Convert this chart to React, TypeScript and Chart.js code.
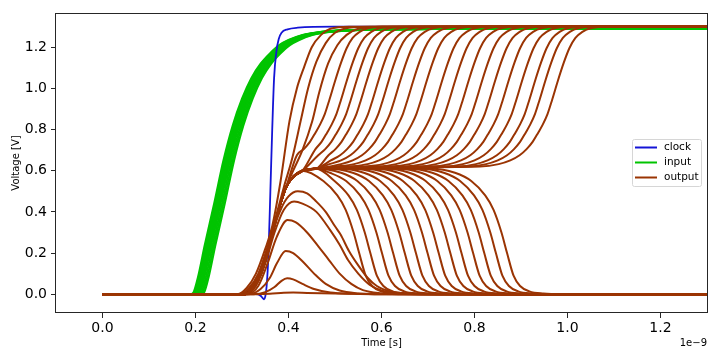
import { useEffect, useRef } from 'react';
import { Chart, registerables } from 'chart.js';

Chart.register(...registerables);

// Axis ranges (time axis in units of 1e-9 s)
const X_MIN = -0.1;
const X_MAX = 1.3;
const Y_MIN = -0.0913;
const Y_MAX = 1.3663;
const xTicks = [0, 0.2, 0.4, 0.6, 0.8, 1.0, 1.2];
const yTicks = [0, 0.2, 0.4, 0.6, 0.8, 1.0, 1.2];

// clock
const clockT = [0, 0.33, 0.34, 0.345, 0.3475, 0.35, 0.353, 0.357, 0.361, 0.365, 0.369, 0.374, 0.379, 0.385, 0.398, 0.42, 0.5, 1.3];
const clockV = [0, 0, -0.008, -0.02, -0.025, -0.012, 0.04, 0.2, 0.5, 0.8, 1.05, 1.18, 1.24, 1.27, 1.287, 1.295, 1.3, 1.3];

// input ramp (earliest of the sweep) and the sweep offsets
const inputT = [0, 0.19, 0.196, 0.205, 0.22, 0.24, 0.26, 0.28, 0.3, 0.32, 0.34, 0.36, 0.38, 0.4, 0.43, 0.47, 0.52, 0.6, 0.8, 1.3];
const inputV = [0, 0, 0.01, 0.08, 0.24, 0.44, 0.65, 0.82, 0.95, 1.05, 1.12, 1.17, 1.21, 1.235, 1.26, 1.275, 1.283, 1.287, 1.29, 1.29];
const inputOffsets = [0, 0.002, 0.004, 0.006, 0.008, 0.01, 0.012, 0.014, 0.017, 0.02, 0.023];

// output: common rise into the metastable plateau
const riseT = [0, 0.305, 0.32, 0.335, 0.35, 0.365, 0.38, 0.395, 0.41, 0.43, 0.46];
const riseV = [0, 0, 0.02, 0.07, 0.16, 0.29, 0.42, 0.52, 0.57, 0.6, 0.61];

// output resolving high: edge shape relative to the 0.84 V crossing
const upEdgeDt = [-0.14, -0.1, -0.075, -0.055, -0.04, -0.027, -0.015, -0.005, 0.005, 0.015, 0.027, 0.04, 0.052, 0.065, 0.08, 0.1, 0.13];
const upEdgeV = [0.62, 0.632, 0.65, 0.675, 0.705, 0.74, 0.785, 0.825, 0.875, 0.945, 1.035, 1.125, 1.195, 1.245, 1.275, 1.293, 1.3];
const upCross = [0.473, 0.498, 0.519, 0.541, 0.566, 0.588, 0.613, 0.641, 0.67, 0.703, 0.731, 0.76, 0.789, 0.817, 0.846, 0.875, 0.903, 0.925, 0.952];

// output resolving low: edge shape relative to the 0.3 V crossing
const downEdgeDt = [-0.15, -0.1, -0.065, -0.035, -0.017, 0, 0.012, 0.026, 0.04, 0.06, 0.09, 0.13];
const downEdgeV = [0.61, 0.59, 0.55, 0.48, 0.41, 0.3, 0.2, 0.09, 0.04, 0.014, 0.003, 0];
const downCross = [0.54, 0.564, 0.589, 0.613, 0.638, 0.662, 0.687, 0.711, 0.736, 0.76, 0.785, 0.809, 0.834, 0.858];

// early outputs read individually
const earlyUp1: [number, number][] = [[0, 0], [0.29, 0], [0.31, 0.03], [0.33, 0.1], [0.35, 0.22], [0.365, 0.33], [0.383, 0.55], [0.402, 0.84], [0.418, 1.0], [0.433, 1.1], [0.45, 1.2], [0.47, 1.26], [0.49, 1.29], [0.53, 1.3], [1.3, 1.3]];
const earlyUp2: [number, number][] = [[0, 0], [0.295, 0], [0.315, 0.03], [0.335, 0.1], [0.355, 0.23], [0.372, 0.37], [0.39, 0.52], [0.408, 0.66], [0.426, 0.84], [0.442, 1.0], [0.46, 1.13], [0.48, 1.22], [0.5, 1.27], [0.53, 1.295], [0.58, 1.3], [1.3, 1.3]];
const earlyUp3: [number, number][] = [[0, 0], [0.3, 0], [0.318, 0.03], [0.338, 0.1], [0.355, 0.21], [0.372, 0.35], [0.39, 0.49], [0.41, 0.6], [0.43, 0.7], [0.451, 0.84], [0.466, 0.98], [0.485, 1.12], [0.505, 1.21], [0.525, 1.26], [0.55, 1.29], [0.6, 1.3], [1.3, 1.3]];
const earlyDown1: [number, number][] = [[0, 0], [0.33, 0], [0.36, 0.002], [0.39, 0.007], [0.41, 0.008], [0.44, 0.006], [0.5, 0.003], [0.6, 0.001], [0.7, 0], [1.3, 0]];
const earlyDown2: [number, number][] = [[0, 0], [0.325, 0], [0.35, 0.01], [0.37, 0.035], [0.385, 0.065], [0.397, 0.077], [0.41, 0.072], [0.43, 0.05], [0.455, 0.025], [0.49, 0.008], [0.54, 0.002], [0.6, 0], [1.3, 0]];
const earlyDown3: [number, number][] = [[0, 0], [0.315, 0], [0.34, 0.025], [0.36, 0.08], [0.375, 0.15], [0.394, 0.21], [0.41, 0.2], [0.43, 0.16], [0.455, 0.1], [0.48, 0.05], [0.51, 0.018], [0.55, 0.004], [0.6, 0], [1.3, 0]];
const earlyDown4: [number, number][] = [[0, 0], [0.31, 0], [0.335, 0.04], [0.355, 0.15], [0.375, 0.28], [0.398, 0.36], [0.415, 0.35], [0.44, 0.3], [0.465, 0.23], [0.487, 0.166], [0.51, 0.1], [0.535, 0.05], [0.56, 0.02], [0.6, 0.005], [0.65, 0], [1.3, 0]];
const earlyDown5: [number, number][] = [[0, 0], [0.305, 0], [0.33, 0.04], [0.35, 0.15], [0.37, 0.3], [0.39, 0.41], [0.412, 0.45], [0.43, 0.44], [0.46, 0.4], [0.49, 0.31], [0.51, 0.24], [0.528, 0.166], [0.55, 0.1], [0.575, 0.045], [0.6, 0.018], [0.64, 0.004], [0.7, 0], [1.3, 0]];
const earlyDown6: [number, number][] = [[0, 0], [0.3, 0], [0.325, 0.04], [0.345, 0.15], [0.365, 0.3], [0.385, 0.42], [0.4, 0.475], [0.42, 0.5], [0.44, 0.49], [0.46, 0.45], [0.48, 0.4], [0.5, 0.33], [0.512, 0.29], [0.53, 0.21], [0.55, 0.14], [0.57, 0.08], [0.59, 0.04], [0.62, 0.013], [0.66, 0.003], [0.72, 0], [1.3, 0]];

const CLOCK_COLOR = '#1414d6';
const INPUT_COLOR = '#00c400';
const OUTPUT_COLOR = '#9a3403';

type P = { x: number; y: number };

function fromArrays(ts: number[], vs: number[]): P[] {
  return ts.map((t, i) => ({ x: t, y: vs[i] }));
}
function fromPairs(pairs: [number, number][]): P[] {
  return pairs.map(([x, y]) => ({ x, y }));
}
// join the common rise with a shifted edge shape, leaving a small gap between the two
function joinEdge(cross: number, riseLimit: number, dts: number[], vs: number[], endV: number): P[] {
  const out: P[] = [];
  riseT.forEach((t, i) => { if (t < cross - riseLimit) out.push({ x: t, y: riseV[i] }); });
  const last = out[out.length - 1].x;
  dts.forEach((dt, i) => { if (cross + dt > last + 0.02) out.push({ x: cross + dt, y: vs[i] }); });
  out.push({ x: X_MAX, y: endV });
  return out;
}
const buildUp = (T: number) => joinEdge(T, 0.065, upEdgeDt, upEdgeV, 1.3);
const buildDown = (D: number) => joinEdge(D, 0.09, downEdgeDt, downEdgeV, 0);

const framePlugin = {
  id: 'framePlugin',
  afterDraw(chart: any) {
    const { ctx, chartArea: a } = chart;
    ctx.save();
    ctx.strokeStyle = '#262626';
    ctx.lineWidth = 1;
    ctx.strokeRect(Math.round(a.left) - 0.5, Math.round(a.top) + 0.5, Math.round(a.right - a.left) + 1, Math.round(a.bottom - a.top) - 1);

    ctx.fillStyle = '#000';
    ctx.font = '10px "DejaVu Sans"';
    ctx.textBaseline = 'middle';
    ctx.textAlign = 'center';
    ctx.fillText('Time [s]', (a.left + a.right) / 2, 343);
    ctx.textAlign = 'right';
    ctx.fillText('1e\u22129', a.right, 343);
    ctx.save();
    ctx.translate(16, (a.top + a.bottom) / 2);
    ctx.rotate(-Math.PI / 2);
    ctx.textAlign = 'center';
    ctx.fillText('Voltage [V]', 0, 0);
    ctx.restore();

    // legend
    const lx = 632.5, ly = 139.5, lw = 69, lh = 47, r = 2;
    ctx.beginPath();
    ctx.moveTo(lx + r, ly);
    ctx.lineTo(lx + lw - r, ly);
    ctx.arcTo(lx + lw, ly, lx + lw, ly + r, r);
    ctx.lineTo(lx + lw, ly + lh - r);
    ctx.arcTo(lx + lw, ly + lh, lx + lw - r, ly + lh, r);
    ctx.lineTo(lx + r, ly + lh);
    ctx.arcTo(lx, ly + lh, lx, ly + lh - r, r);
    ctx.lineTo(lx, ly + r);
    ctx.arcTo(lx, ly, lx + r, ly, r);
    ctx.closePath();
    ctx.fillStyle = 'rgba(255,255,255,0.8)';
    ctx.fill();
    ctx.strokeStyle = '#d6d6d6';
    ctx.stroke();
    const items: [string, string][] = [['clock', CLOCK_COLOR], ['input', INPUT_COLOR], ['output', OUTPUT_COLOR]];
    ctx.font = '10.5px "DejaVu Sans"';
    ctx.textAlign = 'left';
    items.forEach(([label, color], i) => {
      const y = 147.5 + i * 15;
      ctx.strokeStyle = color;
      ctx.lineWidth = 2;
      ctx.beginPath();
      ctx.moveTo(635, y);
      ctx.lineTo(657, y);
      ctx.stroke();
      ctx.fillStyle = '#000';
      ctx.fillText(label, 664, y);
    });
    ctx.restore();
  },
};

export default function App() {
  const ref = useRef<HTMLCanvasElement>(null);
  useEffect(() => {
    document.body.style.margin = '0';
    const datasets: any[] = [];
    const base = { pointRadius: 0, borderWidth: 2, fill: false, cubicInterpolationMode: 'monotone' };
    // Chart.js paints the first dataset last (on top): outputs first, inputs last
    const outputs: P[][] = [
      ...upCross.map(buildUp),
      fromPairs(earlyUp1), fromPairs(earlyUp2), fromPairs(earlyUp3),
      ...downCross.map(buildDown),
      fromPairs(earlyDown1), fromPairs(earlyDown2), fromPairs(earlyDown3), fromPairs(earlyDown4), fromPairs(earlyDown5), fromPairs(earlyDown6),
    ];
    outputs.forEach((d) => datasets.push({ ...base, label: 'output', borderColor: OUTPUT_COLOR, data: d }));
    datasets.push({ ...base, label: 'clock', borderColor: CLOCK_COLOR, borderWidth: 1.8, data: fromArrays(clockT, clockV) });
    inputOffsets.forEach((off) => {
      datasets.push({ ...base, label: 'input', borderColor: INPUT_COLOR, data: fromArrays(inputT.map((t, i) => (i === 0 ? t : t + off)), inputV) });
    });

    const tickFont = { family: '"DejaVu Sans"', size: 14 };
    const chart = new Chart(ref.current!, {
      type: 'line',
      data: { datasets },
      options: {
        responsive: false,
        animation: false,
        devicePixelRatio: 1,
        parsing: false,
        layout: { padding: { top: 13, right: 13, left: 0, bottom: 0 } },
        plugins: { legend: { display: false }, tooltip: { enabled: false } },
        events: [],
        scales: {
          x: {
            type: 'linear',
            min: X_MIN,
            max: X_MAX,
            afterFit: (s: any) => { s.height = 47; },
            afterBuildTicks: (s: any) => { s.ticks = xTicks.map((v) => ({ value: v })); },
            grid: { display: true, drawOnChartArea: false, drawTicks: true, tickLength: 5, color: '#262626' },
            border: { display: false },
            ticks: { font: tickFont, color: '#000', padding: 2, maxRotation: 0, callback: (v: any) => Number(v).toFixed(1) },
          },
          y: {
            type: 'linear',
            min: Y_MIN,
            max: Y_MAX,
            afterFit: (s: any) => { s.width = 56; },
            afterBuildTicks: (s: any) => { s.ticks = yTicks.map((v) => ({ value: v })); },
            grid: { display: true, drawOnChartArea: false, drawTicks: true, tickLength: 5, color: '#262626' },
            border: { display: false },
            ticks: { font: tickFont, color: '#000', padding: 4, callback: (v: any) => Number(v).toFixed(1) },
          },
        },
      } as any,
      plugins: [framePlugin],
    });
    return () => chart.destroy();
  }, []);
  return (
    <div style={{ width: 720, height: 360 }}>
      <canvas ref={ref} width={720} height={360} style={{ display: 'block' }} />
    </div>
  );
}
